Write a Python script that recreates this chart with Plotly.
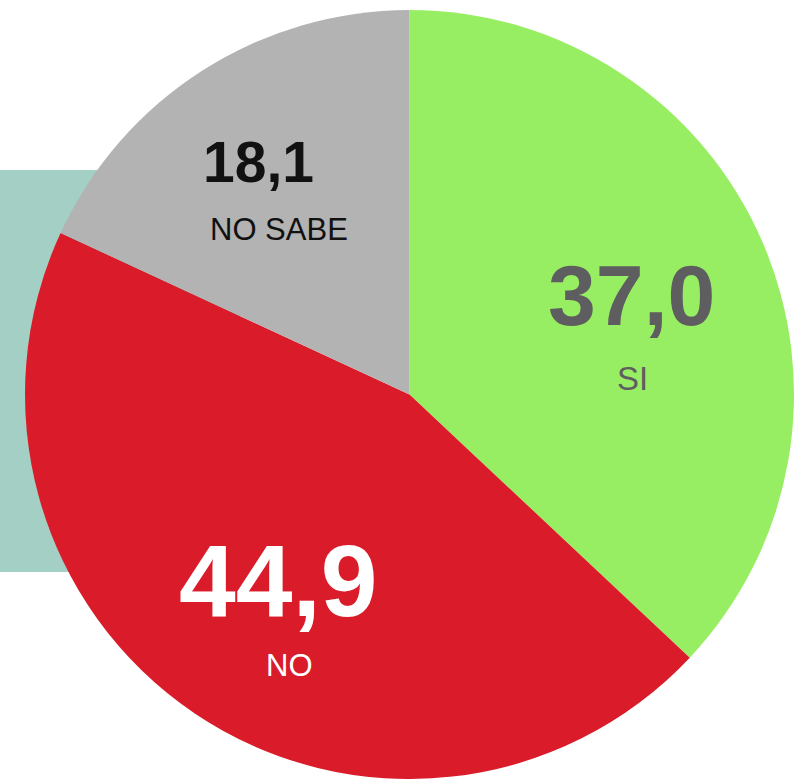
import plotly.graph_objects as go

labels = ["SI", "NO", "NO SABE"]
values = [37.0, 44.9, 18.1]
value_text = ["37,0", "44,9", "18,1"]
colors = ["#98ee62", "#d91b2a", "#b3b3b3"]

W, H = 800, 779
FONT = "Liberation Sans Narrow, Arial Narrow, Liberation Sans, Arial, sans-serif"

fig = go.Figure()
fig.add_trace(go.Pie(
    labels=labels, values=values, sort=False, direction="clockwise", rotation=0,
    marker=dict(colors=colors, line=dict(width=0)),
    textinfo="none", hoverinfo="label+value", showlegend=False,
    domain=dict(x=[0.03, 0.99375], y=[0.0, 0.98716]),
))

fig.add_shape(type="rect", xref="paper", yref="paper", x0=0, x1=0.3,
              y0=(H - 572) / H, y1=(H - 170) / H,
              fillcolor="#a3cfc4", line=dict(width=0), layer="below")

def px(x, y):
    return x / W, 1 - y / H

ann = [
    # (text, x, y, size, color, bold)
    (value_text[2], 258, 162, 57, "#111111", True),
    (labels[2], 279, 229, 31, "#111111", False),
    (value_text[0], 631, 295, 86, "#5e5e60", True),
    (labels[0], 632, 378, 33, "#5e5e60", False),
    (value_text[1], 278, 581, 102, "#ffffff", True),
    (labels[1], 289, 665, 31, "#ffffff", False),
]
for t, x, y, s, c, b in ann:
    xx, yy = px(x, y)
    fig.add_annotation(x=xx, y=yy, xref="paper", yref="paper", showarrow=False,
                       text=f"<b>{t}</b>" if b else t, xanchor="center", yanchor="middle",
                       font=dict(family=FONT, size=s, color=c))

fig.update_layout(width=W, height=H, margin=dict(l=0, r=0, t=0, b=0),
                  paper_bgcolor="white", plot_bgcolor="white")
fig.write_html("out.html", config={"displayModeBar": False},
               post_script="document.body.style.margin='0';")
